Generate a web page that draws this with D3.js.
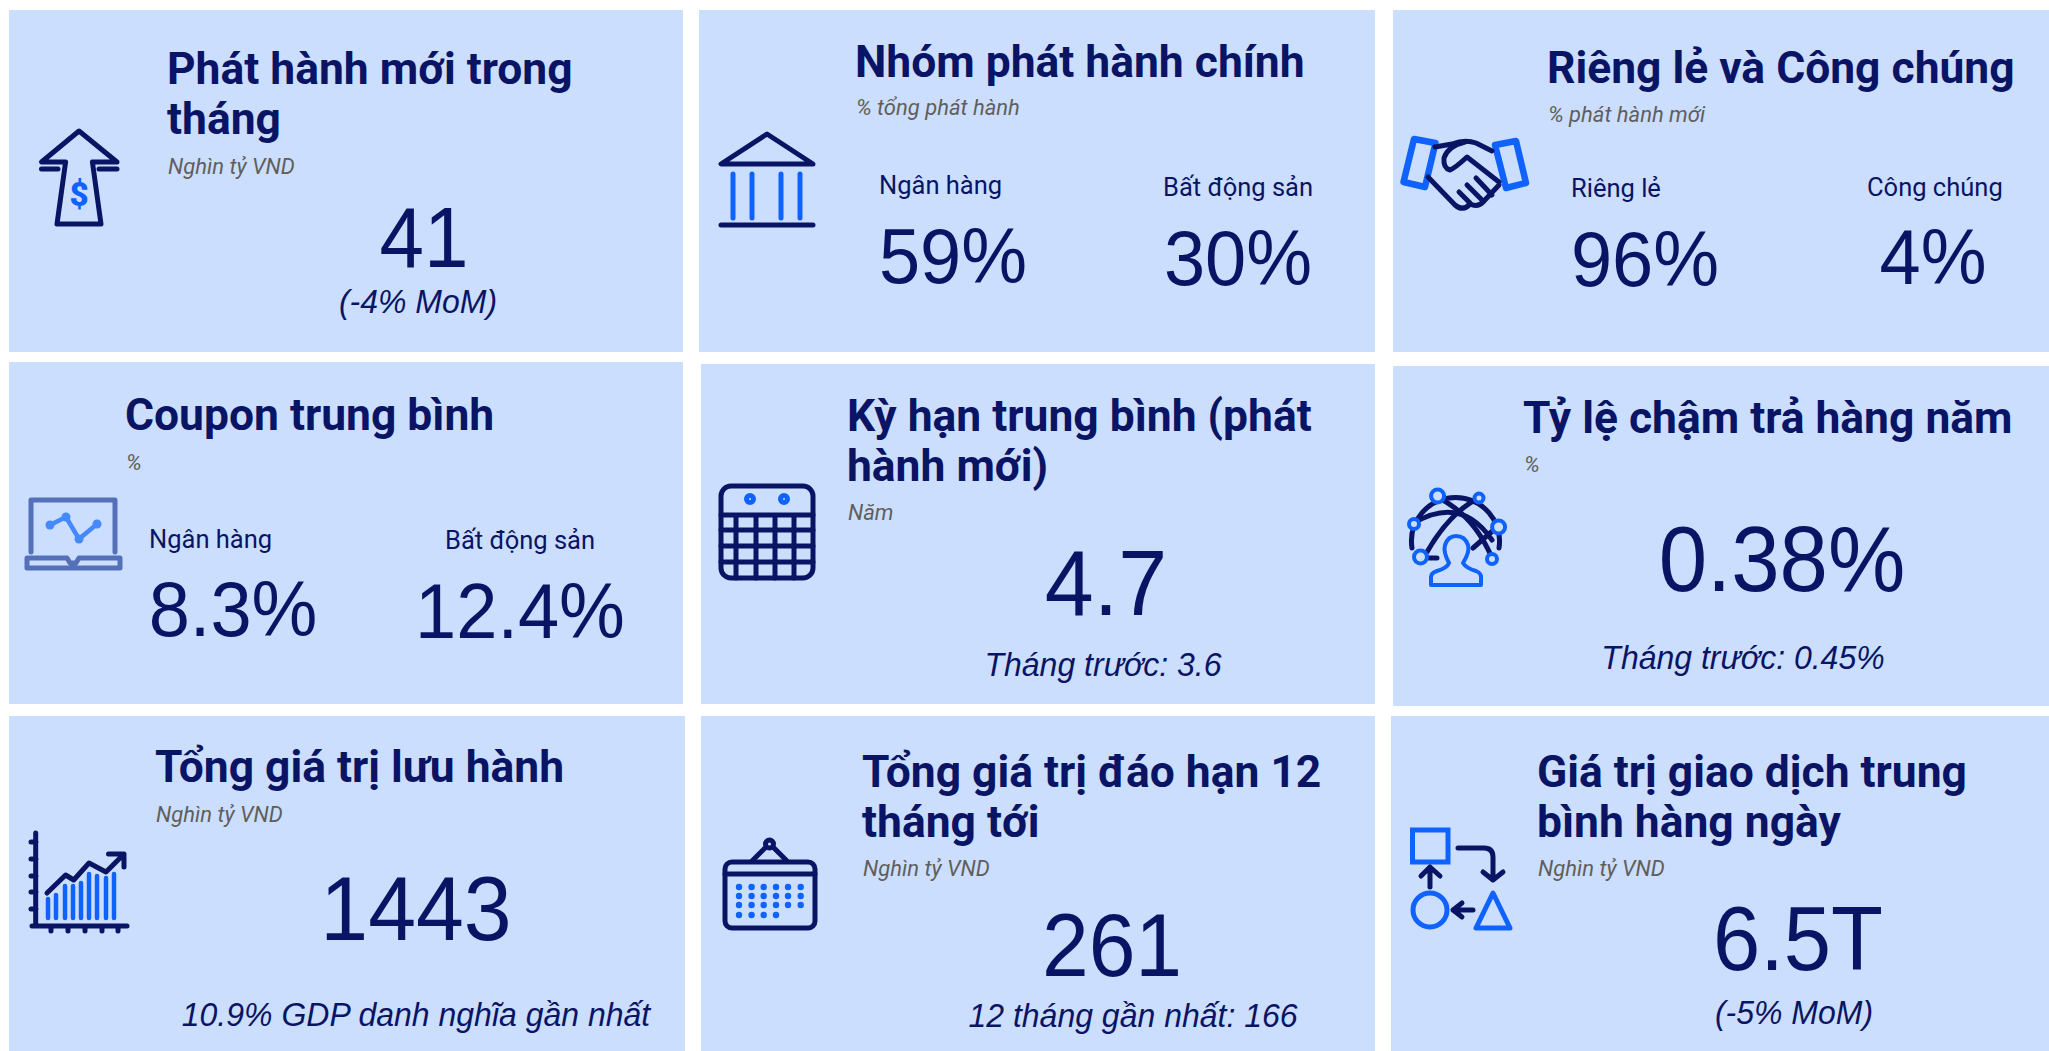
<!DOCTYPE html>
<html lang="vi">
<head>
    <meta charset="UTF-8">
    <title>Trái phiếu doanh nghiệp</title>
    <script src="https://d3js.org/d3.v7.min.js"></script>
    <style>
        html, body { margin: 0; padding: 0; background: #fff; overflow: hidden; }
        svg { display: block; }
        .card { fill: #ccdefe; }
        .title { font: 700 44.4px Roboto, sans-serif; fill: #0a1464; }
        .unit { font: italic 400 22px Roboto, sans-serif; fill: #605e5c; }
        .label { font: 400 25.5px Roboto, sans-serif; fill: #0a1464; }
        .value { font: 400 80px "Liberation Sans", sans-serif; fill: #0a1464; text-anchor: middle; }
        .note { font: italic 400 32px "Liberation Sans", sans-serif; fill: #0a1464; text-anchor: middle; }
        .navy, .blue, .soft, .sky { fill: none; stroke-linecap: round; stroke-linejoin: round; }
        .navy { stroke: #0a1464; stroke-width: 5; }
        .blue { stroke: #0f62fe; stroke-width: 5; }
        .soft { stroke: #5470b9; stroke-width: 5; }
        .sky { stroke: #4589ff; stroke-width: 4.5; }
    </style>
</head>
<body>
<script>
    const width = 2049;
    const height = 1051;
    const cardFill = "#ccdefe";
    const stretch = 1.06; // big numbers in the picture are a bit taller than wide

    // values
    const titles = [
        ["Phát hành mới trong", "tháng"],
        ["Nhóm phát hành chính"],
        ["Riêng lẻ và Công chúng"],
        ["Coupon trung bình"],
        ["Kỳ hạn trung bình (phát", "hành mới)"],
        ["Tỷ lệ chậm trả hàng năm"],
        ["Tổng giá trị lưu hành"],
        ["Tổng giá trị đáo hạn 12", "tháng tới"],
        ["Giá trị giao dịch trung", "bình hàng ngày"]
    ];
    const units = ["Nghìn tỷ VND", "% tổng phát hành", "% phát hành mới", "%", "Năm", "%",
        "Nghìn tỷ VND", "Nghìn tỷ VND", "Nghìn tỷ VND"];
    const values = [["41"], ["59%", "30%"], ["96%", "4%"], ["8.3%", "12.4%"], ["4.7"], ["0.38%"],
        ["1443"], ["261"], ["6.5T"]];
    const valueLabels = [[], ["Ngân hàng", "Bất động sản"], ["Riêng lẻ", "Công chúng"],
        ["Ngân hàng", "Bất động sản"], [], [], [], [], []];
    const notes = ["(-4% MoM)", "", "", "", "Tháng trước: 3.6", "Tháng trước: 0.45%",
        "10.9% GDP danh nghĩa gần nhất", "12 tháng gần nhất: 166", "(-5% MoM)"];

    // where each card sits: box, title/unit position, value and label anchors
    const layout = [
        {box: [9, 683, 10, 352], tx: 167, ty: [84, 134], uy: 174, vx: [424], vy: [267], vs: 80, ny: 313, nx: 418},
        {box: [699, 1375, 10, 352], tx: 855, ty: [77], uy: 115, vx: [953, 1238], vy: [283, 285], vs: 74,
            lx: [879, 1163], ly: [194, 196]},
        {box: [1393, 2049, 10, 352], tx: 1547, ty: [83], uy: 122, vx: [1645, 1933], vy: [286, 284], vs: 74,
            lx: [1571, 1867], ly: [197, 196]},
        {box: [9, 683, 362, 704], tx: 125, ty: [430], uy: 470, vx: [233, 520], vy: [636, 638], vs: 74,
            lx: [149, 445], ly: [548, 549]},
        {box: [701, 1375, 364, 704], tx: 847, ty: [431, 481], uy: 520, vx: [1106], vy: [615], vs: 88, ny: 676, nx: 1103},
        {box: [1393, 2049, 366, 706], tx: 1523, ty: [433], uy: 472, vx: [1782], vy: [591], vs: 87, ny: 669, nx: 1743},
        {box: [9, 685, 716, 1051], tx: 155, ty: [782], uy: 822, vx: [416], vy: [940], vs: 86, ny: 1026, nx: 416},
        {box: [701, 1375, 716, 1051], tx: 862, ty: [787, 837], uy: 876, vx: [1112], vy: [976], vs: 84, ny: 1027, nx: 1133},
        {box: [1391, 2049, 716, 1051], tx: 1537, ty: [787, 837], uy: 876, vx: [1798], vy: [970], vs: 85, ny: 1024, nx: 1794}
    ];

    const svg = d3.select("body").append("svg")
        .attr("width", width).attr("height", height);

    const cards = svg.selectAll("g.kpi")
        .data(layout)
        .enter().append("g")
        .attr("class", "kpi");

    cards.append("rect")
        .attr("class", "card")
        .attr("x", d => d.box[0])
        .attr("y", d => d.box[2])
        .attr("width", d => d.box[1] - d.box[0])
        .attr("height", d => d.box[3] - d.box[2]);

    cards.each(function(d, i) {
        const card = d3.select(this);

        titles[i].forEach((line, k) => {
            card.append("text").attr("class", "title")
                .attr("x", d.tx).attr("y", d.ty[k]).text(line);
        });

        card.append("text").attr("class", "unit")
            .attr("x", d.tx + 1).attr("y", d.uy).text(units[i]);

        values[i].forEach((v, k) => {
            card.append("text").attr("class", "value")
                .attr("transform", `translate(${d.vx[k]},${d.vy[k]}) scale(1,${stretch})`)
                .style("font-size", d.vs + "px").text(v);
        });

        valueLabels[i].forEach((l, k) => {
            card.append("text").attr("class", "label")
                .attr("x", d.lx[k]).attr("y", d.ly[k]).text(l);
        });

        if (notes[i]) {
            card.append("text").attr("class", "note")
                .attr("transform", `translate(${d.nx},${d.ny}) scale(1,${stretch})`)
                .text(notes[i]);
        }
    });

    // icons, drawn in page pixels
    const icons = svg.append("g").attr("class", "icons");

    function stroke(cls, d) {
        return icons.append("path").attr("class", cls).attr("d", d);
    }
    function ring(cls, cx, cy, r) {
        return icons.append("circle").attr("class", cls)
            .attr("cx", cx).attr("cy", cy).attr("r", r).style("fill", cardFill);
    }

    // arrow with dollar
    stroke("navy", "M79,131 L41.5,162 H65.6 L57,224 H101 L92.4,162 H117 Z");
    stroke("navy", "M41.5,169 H58 M99,169 H117");
    icons.append("text").attr("x", 79).attr("y", 206).attr("text-anchor", "middle")
        .style("font", "900 33px Roboto, sans-serif").style("fill", "#0f62fe").text("$");

    // bank
    stroke("navy", "M767,134 L721,164 H813 Z M721,225 H813");
    stroke("blue", "M733,174 V218 M752,174 V218 M781,174 V218 M800,174 V218");

    // handshake
    stroke("blue", "M1414,139 L1435.5,143 L1425,187 L1403.5,182 Z M1495,145 L1516,141 L1526,183 L1506,188 Z")
        .style("stroke-width", 6.5);
    stroke("navy", "M1435,147 L1452,144 Q1465,139 1476,143 L1492,151");
    stroke("navy", "M1465,142 Q1448,146 1444,158 Q1443,168 1450,170 Q1455,168 1467,157 L1499,182");
    stroke("navy", "M1428,177 L1455,205 Q1463,212 1470,204 Q1478,208 1484,201 L1499,185");
    stroke("navy", "M1459,192 L1470,203 M1467,185 L1482,200 M1476,178 L1492,195");

    // laptop
    stroke("soft", "M31,552 V500 H115 V552");
    stroke("soft", "M27,558 H67 L70,563 H76 L79,558 H120 V568 H27 Z");
    stroke("sky", "M50,525 L66,517 L79,539 L97,524");
    [[50, 525], [66, 517], [79, 539], [97, 524]].forEach(p => {
        icons.append("circle").attr("cx", p[0]).attr("cy", p[1]).attr("r", 4.5).style("fill", "#4589ff");
    });

    // calendar grid
    icons.append("rect").attr("class", "navy").attr("x", 721).attr("y", 486)
        .attr("width", 92).attr("height", 92).attr("rx", 10);
    stroke("navy", "M721,515 H813 M721,530 H813 M721,546 H813 M721,562 H813 " +
        "M736,515 V578 M756,515 V578 M775,515 V578 M794,515 V578");
    ring("blue", 750, 499, 3.5);
    ring("blue", 784, 499, 3.5);

    // globe and person
    stroke("navy", "M1412,548 A44,44 0 1 1 1499,548");
    stroke("navy", "M1437,497 Q1474,515 1492,558 M1479,498 Q1450,512 1427,552");
    stroke("navy", "M1414,523 Q1461,495 1492,540 M1497,527 L1473,548 M1429,558 H1437");
    stroke("blue", "M1431,585 V577 Q1431,573 1437,571 Q1447,568 1449,563 Q1443,552 1445,545 Q1448,536 1456,536 " +
        "Q1465,536 1468,545 Q1470,552 1463,563 Q1466,568 1476,571 Q1481,573 1481,577 V585 Z")
        .style("stroke-width", 4);
    [[1437.6, 496, 6.5], [1479, 498, 4.5], [1414, 524, 5], [1498.6, 527, 6.5], [1420.5, 557, 6.5], [1492, 559, 5]]
        .forEach(c => ring("blue", c[0], c[1], c[2]).style("stroke-width", 4));

    // growth chart
    stroke("navy", "M35.7,833 V926 M32,926 H127 M31,842 H36 M31,859 H36 M31,876 H36 M31,892 H36 M31,909 H36 " +
        "M51,926 V931 M68,926 V931 M85,926 V931 M102,926 V931 M118,926 V931");
    stroke("blue", "M48,918 V899 M56,918 V895 M65,918 V886 M73,918 V886 M81,918 V883 M89,918 V874 M97,918 V876 M106,918 V878 M114,918 V874")
        .style("stroke-width", 4.5);
    stroke("navy", "M47,893 L65.6,875 L73.7,880 L89,863 L106,872 L122,856 M108.5,854 H124 V867");

    // hanging calendar
    icons.append("rect").attr("class", "navy").attr("x", 725).attr("y", 862)
        .attr("width", 90).attr("height", 66).attr("rx", 7);
    stroke("navy", "M725,874 H815 M752,861 L766,847 M787,861 L773,847");
    ring("navy", 769.5, 844, 4);
    const dotX = [739, 751.6, 763.7, 776, 788, 800.7];
    const dotY = [887, 896, 905, 915];
    dotY.forEach((y, r) => {
        dotX.slice(0, r === 3 ? 4 : 6).forEach(x => {
            icons.append("circle").attr("cx", x).attr("cy", y).attr("r", 3.2).style("fill", "#0f62fe");
        });
    });

    // flow shapes
    icons.append("rect").attr("class", "blue").attr("x", 1412.5).attr("y", 830)
        .attr("width", 35.5).attr("height", 32).style("stroke-linejoin", "miter");
    stroke("navy", "M1458,848 H1484 Q1493,848 1493,857 V880 M1483,872 L1493,880 L1503,872");
    stroke("navy", "M1430,887 V867 M1421,876 L1430,867 L1440,876");
    stroke("navy", "M1473,910 H1453 M1462,903 L1453,910 L1462,917");
    ring("blue", 1430, 910, 17);
    stroke("blue", "M1493,893 L1476,928 H1510 Z");
</script>
</body>
</html>
